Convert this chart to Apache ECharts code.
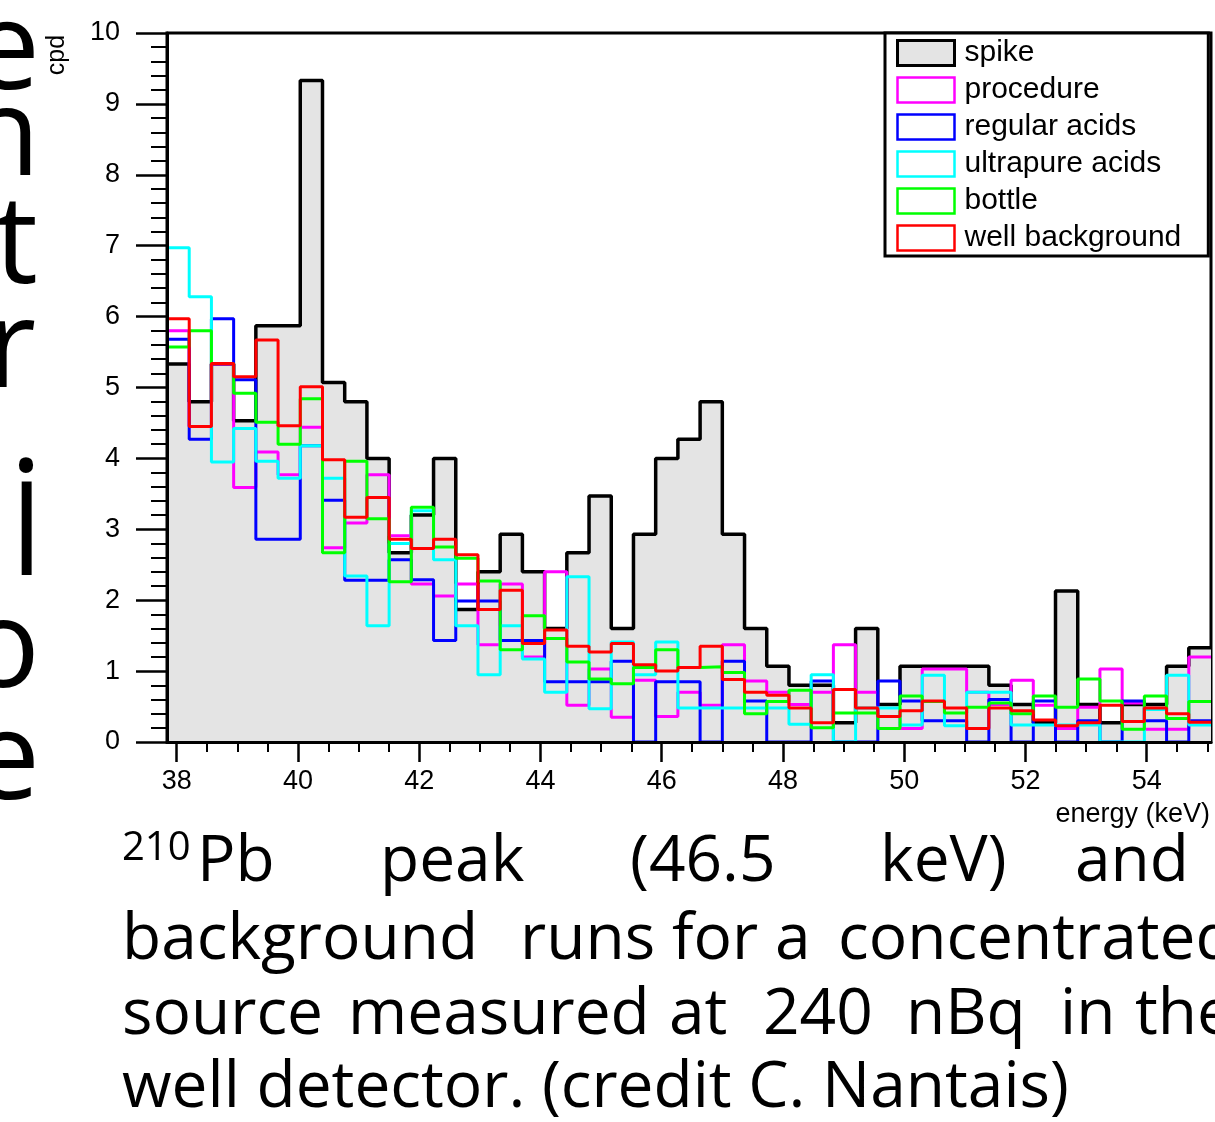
<!DOCTYPE html>
<html>
<head>
<meta charset="utf-8">
<script src="https://cdn.jsdelivr.net/npm/echarts@6/dist/echarts.min.js"></script>
<style>
  html, body { margin: 0; padding: 0; background: #fff; overflow: hidden; }
  #chart { width: 1215px; height: 1122px; }
</style>
</head>
<body>
<div id="chart"></div>
<script>
// histogram range (keV) and number of bins shown
const energyMin = 37.84
const energyMax = 55.06
const binCount = 47

const seriesNames = ['spike', 'procedure', 'regular acids', 'ultrapure acids', 'bottle', 'well background']
const seriesColors = ['#000000', '#ff00ff', '#0000ff', '#00ffff', '#00ff00', '#ff0000']

// cpd per bin
const spike = [5.33, 4.80, 5.33, 4.53, 5.87, 5.87, 9.33, 5.07, 4.80, 4.00, 2.67, 3.20, 4.00, 1.87, 2.40, 2.93,
  2.40, 1.60, 2.67, 3.47, 1.60, 2.93, 4.00, 4.27, 4.80, 2.93, 1.60, 1.07, 0.80, 0.80, 0.27, 1.60,
  0.53, 1.07, 1.07, 1.07, 1.07, 0.80, 0.53, 0.27, 2.13, 0.53, 0.27, 0.53, 0.53, 1.07, 1.33]
const procedure = [5.80, 4.45, 5.33, 3.59, 4.09, 3.77, 4.44, 2.74, 3.09, 3.77, 2.91, 2.23, 2.06, 2.23, 1.37, 2.23,
  1.20, 2.40, 0.52, 1.03, 0.35, 0.87, 0.36, 0.70, 0.52, 1.37, 0.86, 0.70, 0.53, 0.70, 1.37, 0.70,
  0.36, 0.19, 1.03, 1.03, 0.70, 0.53, 0.87, 0.52, 0.19, 0.49, 1.03, 0.55, 0.18, 0.18, 1.20]
const regularAcids = [5.68, 4.27, 5.97, 5.11, 2.86, 2.86, 4.18, 3.41, 2.28, 2.28, 2.57, 2.29, 1.43, 1.99, 1.99, 1.43,
  1.43, 0.85, 0.85, 0.85, 1.14, 0, 0.85, 0.85, 0, 1.14, 0.58, 0, 0, 0.86, 0, 0,
  0.86, 0.58, 0.30, 0.30, 0, 0.60, 0, 0.58, 0, 0.30, 0, 0.58, 0.30, 0, 0.30]
const ultrapureAcids = [6.97, 6.28, 3.95, 4.42, 3.96, 3.72, 4.18, 3.72, 2.34, 1.64, 2.80, 3.26, 2.57, 1.64, 0.95, 1.64,
  1.17, 0.70, 2.33, 0.47, 1.41, 0.95, 1.41, 0.48, 0.48, 0.48, 0.48, 0.48, 0.25, 0.95, 0, 0.48,
  0.48, 0.24, 0.94, 0.23, 0.70, 0.70, 0.24, 0.24, 0.24, 0.24, 0, 0, 0.46, 0.94, 0.24]
const bottle = [5.57, 5.80, 5.34, 4.92, 4.51, 4.20, 4.84, 2.67, 3.96, 3.15, 2.26, 3.31, 2.75, 2.59, 2.27, 1.30,
  1.78, 1.46, 1.13, 0.89, 0.82, 1.05, 1.30, 1.05, 1.06, 0.98, 0.40, 0.57, 0.73, 0.20, 0.41, 0.41,
  0.19, 0.65, 0.57, 0.41, 0.49, 0.55, 0.40, 0.65, 0.49, 0.89, 0.58, 0.18, 0.65, 0.33, 0.57]
const wellBackground = [5.97, 4.45, 5.34, 5.15, 5.67, 4.46, 5.01, 3.98, 3.17, 3.45, 2.86, 2.73, 2.86, 2.64, 1.87, 2.14,
  1.39, 1.58, 1.35, 1.27, 1.39, 1.09, 1.00, 1.05, 1.35, 0.88, 0.70, 0.66, 0.48, 0.27, 0.74, 0.48,
  0.36, 0.44, 0.58, 0.48, 0.19, 0.48, 0.44, 0.31, 0.23, 0.27, 0.52, 0.29, 0.48, 0.40, 0.28]

const majorTicks = [38, 40, 42, 44, 46, 48, 50, 52, 54]
const minorTicks = [38.5, 39, 39.5, 40.5, 41, 41.5, 42.5, 43, 43.5, 44.5, 45, 45.5, 46.5, 47, 47.5,
  48.5, 49, 49.5, 50.5, 51, 51.5, 52.5, 53, 53.5, 54.5, 55]

const allValues = [spike, procedure, regularAcids, ultrapureAcids, bottle, wellBackground]
const binWidth = (energyMax - energyMin) / binCount
const fontAxis = 'Liberation Sans'
const fontSlide = 'Open Sans'

// left edges of each bin, plus the closing edge, for a step line
function toSteps (values) {
  const pts = values.map((v, i) => [energyMin + i * binWidth, v])
  pts.push([energyMax, values[values.length - 1]])
  return pts
}

const chart = echarts.init(document.getElementById('chart'))

// caption, one entry per word so the justified spacing is kept
const captionLines = [
  { y: 863, words: [['Pb', 197], ['peak', 380], ['(46.5', 630], ['keV)', 880], ['and', 1075]] },
  { y: 941, words: [['background', 122], ['runs', 520], ['for', 672], ['a', 775], ['concentrated', 838]] },
  { y: 1016, words: [['source', 122], ['measured', 348], ['at', 669], ['240', 763], ['nBq', 906], ['in', 1060], ['the', 1135]] },
  { y: 1089, words: [['well detector. (credit C. Nantais)', 122]] }
]
const graphics = []
captionLines.forEach(line => {
  line.words.forEach(w => {
    graphics.push({
      type: 'text', x: w[1], y: line.y,
      style: { text: w[0], font: '64px "' + fontSlide + '"', fill: '#000', align: 'left', verticalAlign: 'middle' }
    })
  })
})
graphics.push({
  type: 'text', x: 122, y: 849,
  style: { text: '210', font: '40px "' + fontSlide + '"', fill: '#000', align: 'left', verticalAlign: 'middle' }
})

// pieces of the slide text cut off on the left edge
const edgeLetters = [['e', 54, 40], ['n', 140, 40], ['t', 248, 38], ['r', 352, 36], ['.', 436, 42], ['l', 540, 42], ['o', 652, 40], ['e', 764, 40]]
edgeLetters.forEach(l => {
  graphics.push({
    type: 'text', x: l[2], y: l[1],
    style: { text: l[0], font: '122px "' + fontSlide + '"', fill: '#000', align: 'right', verticalAlign: 'middle' }
  })
})

graphics.push({
  type: 'text', x: 57, y: 55, rotation: Math.PI / 2,
  style: { text: 'cpd', font: '25px "' + fontAxis + '"', fill: '#000', align: 'center', verticalAlign: 'middle' }
})
graphics.push({
  type: 'text', x: 1210, y: 815,
  style: { text: 'energy (keV)', font: '27px "' + fontAxis + '"', fill: '#000', align: 'right', verticalAlign: 'middle' }
})

const option = {
  animation: false,
  backgroundColor: '#fff',
  grid: {
    left: 167, top: 33, width: 1044, height: 709,
    show: true, borderColor: '#000', borderWidth: 3, backgroundColor: 'transparent'
  },
  legend: {
    orient: 'vertical',
    left: 885,
    top: 33,
    padding: [5, 27, 3, 11],
    itemWidth: 57,
    itemHeight: 25,
    itemGap: 7,
    selectedMode: false,
    backgroundColor: '#fff',
    borderColor: '#000',
    borderWidth: 3,
    textStyle: { fontFamily: fontAxis, fontSize: 30, color: '#000', lineHeight: 29, padding: [0, 0, 0, 5] },
    data: seriesNames.map((name, k) => ({
      name: name,
      icon: 'rect',
      itemStyle: {
        color: k === 0 ? '#e4e4e4' : '#fff',
        borderColor: seriesColors[k],
        borderWidth: k === 0 ? 3 : 2.5
      }
    }))
  },
  xAxis: [
    {
      type: 'value', min: energyMin, max: energyMax, position: 'bottom', z: 10,
      axisLine: { show: true, onZero: false, lineStyle: { color: '#000', width: 3 } },
      axisTick: { show: true, customValues: majorTicks, length: 20, lineStyle: { color: '#000', width: 2.5 } },
      axisLabel: { show: true, customValues: majorTicks, fontFamily: fontAxis, fontSize: 27, color: '#000', margin: 26 },
      splitLine: { show: false }
    },
    {
      type: 'value', min: energyMin, max: energyMax, position: 'bottom', z: 10,
      axisLine: { show: false },
      axisTick: { show: true, customValues: minorTicks, length: 10, lineStyle: { color: '#000', width: 2 } },
      axisLabel: { show: false },
      splitLine: { show: false }
    }
  ],
  yAxis: {
    type: 'value', min: 0, max: 10, interval: 1, z: 10,
    axisLine: { show: true, lineStyle: { color: '#000', width: 3 } },
    axisTick: { show: true, length: 31, lineStyle: { color: '#000', width: 2.5 } },
    minorTick: { show: true, splitNumber: 5, length: 16, lineStyle: { color: '#000', width: 2 } },
    axisLabel: { fontFamily: fontAxis, fontSize: 27, color: '#000', margin: 47 },
    splitLine: { show: false },
    minorSplitLine: { show: false }
  },
  series: seriesNames.map((name, k) => ({
    name: name,
    type: 'line',
    step: 'end',
    symbol: 'none',
    xAxisIndex: 0,
    data: toSteps(allValues[k]),
    itemStyle: { color: seriesColors[k] },
    lineStyle: { color: seriesColors[k], width: k === 0 ? 3.5 : 3 },
    areaStyle: k === 0 ? { color: '#e4e4e4', opacity: 1 } : undefined
  })),
  graphic: graphics
}

chart.setOption(option)
</script>
</body>
</html>
